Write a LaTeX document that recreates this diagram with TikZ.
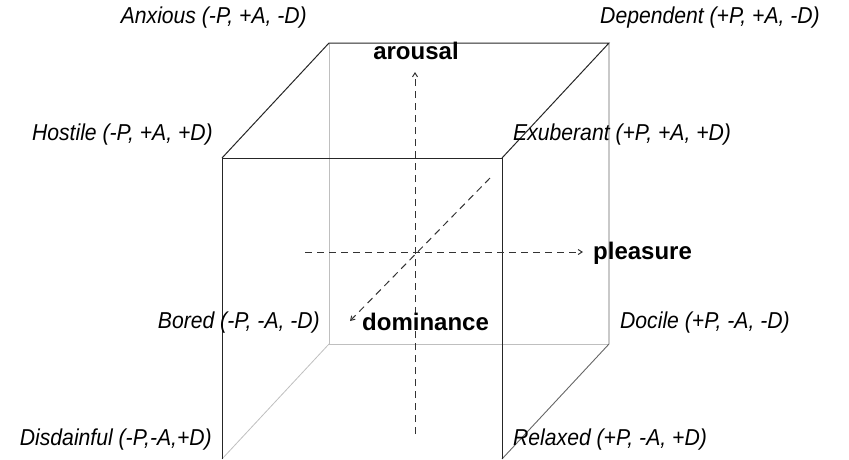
\documentclass[tikz,border=0pt]{standalone}
\usepackage{fontspec}
\setsansfont{Liberation Sans}
\newfontfamily\cornerfont{Liberation Sans}[FakeStretch=0.92]
\usetikzlibrary{arrows.meta,positioning,calc}

\begin{document}
\begin{tikzpicture}[
    x=1pt, y=-1pt,
    font=\sffamily\fontsize{17}{20}\selectfont,
    edge/.style={line width=1pt, draw=black!85},
    hidden/.style={line width=0.8pt, draw=black!25},
    rim/.style={line width=0.9pt, draw=black!60},
    axis/.style={line width=1pt, draw=black!80, dash pattern=on 7pt off 5pt,
        -{Straight Barb[length=4pt,width=5pt]}},
    corner/.style={font=\cornerfont\itshape\fontsize{23}{26}\selectfont, inner sep=0pt},
    axlabel/.style={font=\sffamily\bfseries\fontsize{24}{28}\selectfont, inner sep=0pt},
]
\useasboundingbox (0,0) rectangle (849,459);
% cube corners (f = front, b = back)
\coordinate (ftl) at (222,158);
\coordinate (ftr) at (502,158);
\coordinate (fbl) at (222,459);
\coordinate (fbr) at (502,459);
\coordinate (btl) at (329,43);
\coordinate (btr) at (609,43);
\coordinate (bbl) at (329,344);
\coordinate (bbr) at (609,344);
% hidden back edges
\draw[hidden] (btl) -- (bbl) -- (bbr);
\draw[hidden] (fbl) -- (bbl);
\draw[rim] (btr) -- (bbr) -- (fbr);
% visible edges
\draw[edge] (ftl) -- (btl) -- (btr) -- (ftr);
\draw[edge] (fbl) -- (ftl) -- (ftr) -- (fbr);
% axes
\coordinate (aS) at (415,434);
\coordinate (aN) at (415,72);
\coordinate (pW) at (305,252);
\coordinate (pE) at (583,252);
\coordinate (dB) at (490,178);
\coordinate (dF) at (350,321);
\draw[axis] (aS) -- (aN);
\draw[axis] (pW) -- (pE);
\draw[axis] (dB) -- (dF);
\node[axlabel] (arousal) at (416,51) {arousal};
\node[axlabel, anchor=west] (pleasure) at (593,253) {pleasure};
\node[axlabel, anchor=west] (dominance) at (362,322) {dominance};
% octant labels
\node[corner, anchor=east] (anxious)    at (307,18)  {Anxious (-P, +A, -D)};
\node[corner, anchor=east] (dependent)  at (820,18)  {Dependent (+P, +A, -D)};
\node[corner, anchor=east] (hostile)    at (213,135) {Hostile (-P, +A, +D)};
\node[corner, anchor=west] (exuberant)  at (513,135) {Exuberant (+P, +A, +D)};
\node[corner, anchor=east] (bored)      at (320,323) {Bored (-P, -A, -D)};
\node[corner, anchor=west] (docile)     at (620,323) {Docile (+P, -A, -D)};
\node[corner, anchor=east] (disdainful) at (212,440) {Disdainful (-P,-A,+D)};
\node[corner, anchor=west] (relaxed)    at (513,440) {Relaxed (+P, -A, +D)};
\end{tikzpicture}
\end{document}
